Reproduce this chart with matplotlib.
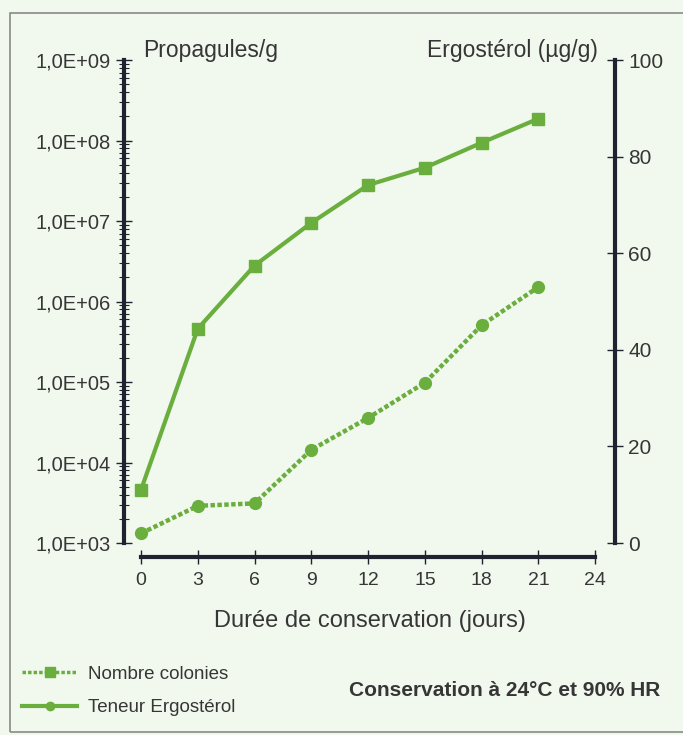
import numpy as np
import matplotlib
matplotlib.use("Agg")
import matplotlib.pyplot as plt
from matplotlib.lines import Line2D
from matplotlib.patches import Rectangle
from matplotlib.ticker import FixedLocator, LogLocator, FuncFormatter, NullFormatter

# --- données ---
jours = [0, 3, 6, 9, 12, 15, 18, 21]
propagules = [4.6e3, 4.6e5, 2.8e6, 9.5e6, 2.8e7, 4.6e7, 9.4e7, 1.87e8]
ergosterol = [2.0, 7.7, 8.2, 19.3, 25.9, 33.2, 45.1, 53.0]

x_ticks = [0, 3, 6, 9, 12, 15, 18, 21, 24]
log_ticks = [1e3, 1e4, 1e5, 1e6, 1e7, 1e8, 1e9]
ergo_ticks = [0, 20, 40, 60, 80, 100]

vert = "#6aae3e"
fond = "#f1f8ee"
encre = "#1e2330"
texte = "#363636"

plt.rcParams["font.family"] = ["Liberation Sans", "DejaVu Sans"]

fig = plt.figure(figsize=(6.83, 7.35), dpi=100, facecolor=fond)
ax = fig.add_axes([0.1816, 0.2612, 0.7189, 0.6571])
ax.set_facecolor("none")
ax2 = ax.twinx()

# courbe propagules (axe log)
ax.plot(jours, propagules, color=vert, lw=3, marker="s", ms=9,
        markeredgecolor=vert, zorder=3)
ax.set_yscale("log")
ax.set_ylim(1e3, 1e9)
ax.set_xlim(-0.9, 25.05)

# courbe ergostérol (axe droit)
ax2.plot(jours, ergosterol, color=vert, lw=3.2, linestyle=(0, (1.0, 0.55)),
         marker="o", ms=8.5, markeredgecolor=vert, zorder=3)
ax2.set_ylim(0, 100)

# --- axes ---
for a in (ax, ax2):
    a.spines["top"].set_visible(False)
ax.spines["right"].set_visible(False)
ax2.spines["left"].set_visible(False)
ax2.spines["bottom"].set_visible(False)

ax.spines["left"].set_linewidth(3)
ax.spines["left"].set_color(encre)
ax2.spines["right"].set_linewidth(3)
ax2.spines["right"].set_color(encre)
ax.spines["bottom"].set_linewidth(3)
ax.spines["bottom"].set_color(encre)
ax.spines["bottom"].set_position(("outward", 10))
ax.spines["bottom"].set_bounds(0, 24)

ax.yaxis.set_major_locator(FixedLocator(log_ticks))
ax.yaxis.set_minor_locator(LogLocator(base=10, subs=np.arange(2, 10), numticks=20))
ax.yaxis.set_minor_formatter(NullFormatter())
ax.yaxis.set_major_formatter(FuncFormatter(
    lambda v, p: "1,0E+%02d" % int(round(np.log10(v)))))
ax.tick_params(axis="y", which="major", direction="inout", length=11, width=1,
               color=encre, labelsize=14.5, labelcolor=texte, pad=4)
ax.tick_params(axis="y", which="minor", direction="inout", length=7, width=0.8,
               color=encre)

ax.set_xticks(x_ticks)
ax.tick_params(axis="x", direction="inout", length=10, width=1, color=encre,
               labelsize=14, labelcolor=texte, pad=6)

ax2.set_yticks(ergo_ticks)
ax2.tick_params(axis="y", direction="inout", length=11, width=1, color=encre,
                labelsize=15, labelcolor=texte, pad=4)

ax.set_xlabel("Durée de conservation (jours)", fontsize=17, color=texte,
              labelpad=15)

# titres d'axes
fig.text(143 / 683, 1 - 51 / 735, "Propagules/g", fontsize=16.5, color=texte,
         ha="left", va="center")
fig.text(598 / 683, 1 - 51 / 735, "Ergostérol (µg/g)", fontsize=16.5,
         color=texte, ha="right", va="center")

# légende
poignees = [
    Line2D([], [], color=vert, lw=2.5, linestyle=(0, (1.0, 0.6)), marker="s",
           ms=7),
    Line2D([], [], color=vert, lw=3, marker="o", ms=6),
]
fig.legend(poignees, ["Nombre colonies", "Teneur Ergostérol"],
           loc="upper left", bbox_to_anchor=(0.008, 0.117), frameon=False,
           fontsize=13.5, labelcolor=texte, handlelength=2.9,
           handletextpad=0.6, labelspacing=0.85)

fig.text(505 / 683, 1 - 690 / 735, "Conservation à 24°C et 90% HR",
         fontsize=15, fontweight="bold", color=texte, ha="center",
         va="center")

# cadre
fig.patches.append(Rectangle((10 / 683, 3 / 735), 1.0, 1 - 16 / 735,
                             transform=fig.transFigure, fill=False,
                             edgecolor="#8a8a8a", lw=1.2))

fig.savefig("out.png", dpi=100, facecolor=fond)
